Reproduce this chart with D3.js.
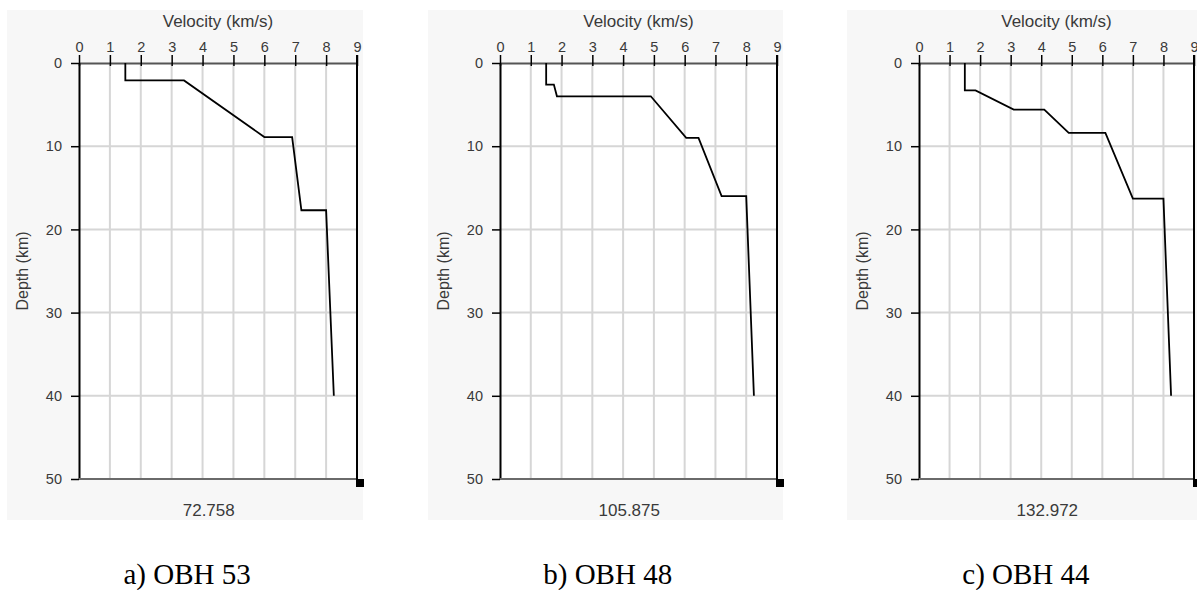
<!DOCTYPE html>
<html>
<head>
<meta charset="utf-8">
<script src="https://cdn.jsdelivr.net/npm/d3@7"></script>
<style>
  body { margin: 0; background: #fff; }
  svg { display: block; }
</style>
</head>
<body>
<div id="chart"></div>
<script>
// velocity-depth profiles
var velocityTicks = [0, 1, 2, 3, 4, 5, 6, 7, 8, 9];
var depthTicks = [0, 10, 20, 30, 40, 50];

var obh53Velocity = [1.5, 1.5, 3.4, 6.0, 6.9, 7.2, 8.0, 8.25];
var obh53Depth    = [0, 2.1, 2.1, 8.9, 8.9, 17.7, 17.7, 40];

var obh48Velocity = [1.5, 1.5, 1.75, 1.85, 4.9, 6.05, 6.45, 7.2, 8.0, 8.25];
var obh48Depth    = [0, 2.6, 2.6, 4.0, 4.0, 9.0, 9.0, 16.0, 16.0, 40];

var obh44Velocity = [1.5, 1.5, 1.85, 3.1, 4.1, 4.9, 6.1, 7.0, 8.0, 8.25];
var obh44Depth    = [0, 3.3, 3.3, 5.6, 5.6, 8.4, 8.4, 16.3, 16.3, 40];

var positions = ["72.758", "105.875", "132.972"];
var captions = ["a) OBH 53", "b) OBH 48", "c) OBH 44"];

var panels = [
  {v: obh53Velocity, d: obh53Depth, left: 79, right: 357},
  {v: obh48Velocity, d: obh48Depth, left: 500, right: 777},
  {v: obh44Velocity, d: obh44Depth, left: 919, right: 1194}
];

var W = 1197, H = 590;
var top0 = 63, bottom0 = 479;
var sans = "Liberation Sans, Arial, sans-serif";

var svg = d3.select("#chart").append("svg")
    .attr("width", W)
    .attr("height", H);

panels.forEach(function(p, i) {
  var x = d3.scaleLinear().domain([0, 9]).range([p.left, p.right]);
  var y = d3.scaleLinear().domain([0, 50]).range([top0, bottom0]);

  var g = svg.append("g");

  // faint grey backing of the scanned panel
  g.append("rect")
      .attr("x", p.left - 72)
      .attr("y", 10)
      .attr("width", p.right - p.left + 78)
      .attr("height", 510)
      .attr("fill", "#f7f7f7");
  g.append("rect")
      .attr("x", p.left)
      .attr("y", top0)
      .attr("width", p.right - p.left)
      .attr("height", bottom0 - top0)
      .attr("fill", "#fff");

  // grid
  g.selectAll(".vgrid")
      .data(velocityTicks.slice(1, -1))
    .enter().append("line")
      .attr("x1", function(d) { return x(d); })
      .attr("x2", function(d) { return x(d); })
      .attr("y1", y(0))
      .attr("y2", y(50))
      .attr("stroke", "#d6d6d6")
      .attr("stroke-width", 2);
  g.selectAll(".hgrid")
      .data(depthTicks.slice(1, -1))
    .enter().append("line")
      .attr("x1", x(0))
      .attr("x2", x(9))
      .attr("y1", function(d) { return y(d); })
      .attr("y2", function(d) { return y(d); })
      .attr("stroke", "#d6d6d6")
      .attr("stroke-width", 2);

  // top velocity axis
  var xAxis = g.append("g")
      .attr("transform", "translate(0," + y(0) + ")")
      .call(d3.axisTop(x).tickValues(velocityTicks).tickSize(8).tickPadding(3).tickSizeOuter(0));
  xAxis.select(".domain").attr("stroke", "#555").attr("stroke-width", 2);
  xAxis.selectAll(".tick line").attr("stroke", "#000").attr("stroke-width", 1.5).attr("y2", -8).attr("y1", 3);
  xAxis.selectAll(".tick text")
      .attr("font-family", sans)
      .attr("font-size", 14.5)
      .attr("fill", "#3a3a3a");

  // left depth axis
  var yAxis = g.append("g")
      .attr("transform", "translate(" + x(0) + ",0)")
      .call(d3.axisLeft(y).tickValues(depthTicks).tickSize(8).tickPadding(9).tickSizeOuter(0));
  yAxis.select(".domain").attr("stroke", "#000").attr("stroke-width", 2);
  yAxis.selectAll(".tick line").attr("stroke", "#000").attr("stroke-width", 1.5);
  yAxis.selectAll(".tick text")
      .attr("font-family", sans)
      .attr("font-size", 14.5)
      .attr("fill", "#3a3a3a");

  // frame: bottom grey, right black
  g.append("line")
      .attr("x1", x(0)).attr("x2", x(9))
      .attr("y1", y(50)).attr("y2", y(50))
      .attr("stroke", "#6a6a6a")
      .attr("stroke-width", 2);
  g.append("line")
      .attr("x1", x(9)).attr("x2", x(9))
      .attr("y1", y(0) - 8).attr("y2", y(50))
      .attr("stroke", "#000")
      .attr("stroke-width", 2);
  g.append("rect")
      .attr("x", x(9) - 1)
      .attr("y", y(50))
      .attr("width", 8)
      .attr("height", 8)
      .attr("fill", "#000");

  // profile
  var pts = d3.zip(p.v, p.d);
  g.append("path")
      .datum(pts)
      .attr("fill", "none")
      .attr("stroke", "#000")
      .attr("stroke-width", 1.8)
      .attr("d", d3.line()
          .x(function(d) { return x(d[0]); })
          .y(function(d) { return y(d[1]); }));

  // labels
  g.append("text")
      .attr("x", x(4.5))
      .attr("y", 27)
      .attr("text-anchor", "middle")
      .attr("font-family", sans)
      .attr("font-size", 17)
      .attr("fill", "#3a3a3a")
      .text("Velocity (km/s)");

  g.append("text")
      .attr("transform", "translate(" + (x(0) - 51) + "," + y(25) + ") rotate(-90)")
      .attr("text-anchor", "middle")
      .attr("font-family", sans)
      .attr("font-size", 16)
      .attr("fill", "#3a3a3a")
      .text("Depth (km)");

  g.append("text")
      .attr("x", x(4.2))
      .attr("y", 516)
      .attr("text-anchor", "middle")
      .attr("font-family", sans)
      .attr("font-size", 17)
      .attr("fill", "#3a3a3a")
      .text(positions[i]);

  g.append("text")
      .attr("x", x(3.5))
      .attr("y", 584)
      .attr("text-anchor", "middle")
      .attr("font-family", "Liberation Serif, Times New Roman, serif")
      .attr("font-size", 29)
      .attr("fill", "#000")
      .text(captions[i]);
});
</script>
</body>
</html>
